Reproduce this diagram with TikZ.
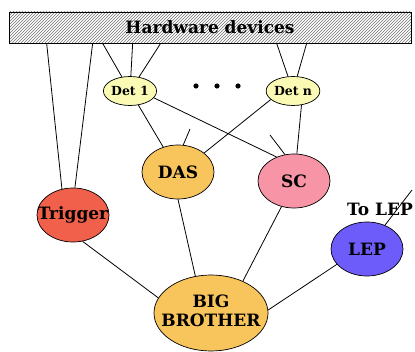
\documentclass[tikz,border=0pt]{standalone}
\usepackage{fontspec}
\setmainfont{DejaVu Serif}
\usetikzlibrary{shapes.geometric, patterns, calc}
\definecolor{detyellow}{HTML}{FAFAB4}
\definecolor{dasorange}{HTML}{F8C45C}
\definecolor{scpink}{HTML}{F794A6}
\definecolor{trigred}{HTML}{F0604A}
\definecolor{lepblue}{HTML}{6E5CFA}

\begin{document}
\begin{tikzpicture}[x=1pt, y=-1pt,
    unitnode/.style={ellipse, draw, line width=0.7pt, inner sep=0pt,
                     minimum width=72pt, minimum height=54pt,
                     font=\fontsize{17}{19}\selectfont\bfseries, align=center},
    unittext/.style={font=\fontsize{17}{19}\selectfont\bfseries, align=center},
    detnode/.style={ellipse, draw, line width=0.7pt, fill=detyellow, inner sep=0pt,
                    minimum width=49pt, minimum height=29pt,
                    font=\fontsize{12.5}{14}\selectfont\bfseries},
    hwbox/.style={draw, line width=0.7pt, pattern=north east lines, pattern color=black!55,
                  minimum width=402pt, minimum height=31pt, inner sep=0pt,
                  font=\fontsize{17}{19}\selectfont\bfseries},
    link/.style={line width=0.8pt}
  ]
  \useasboundingbox (0,0) rectangle (415,352);

  \node[hwbox] (hw) at (210,27.5) {Hardware devices};

  \node[detnode] (det1) at (130,91) {Det 1};
  \node[detnode] (detn) at (293,91) {Det n};
  \foreach \x in {196,217,238} \fill (\x,86) circle (2.6pt);

  \node[unitnode, fill=dasorange] (das) at (178,172) {DAS};
  \node[unitnode, fill=scpink] (sc) at (294,181) {SC};
  \node[unitnode, fill=trigred, label={[unittext]center:Trigger}] (trig) at (73,215) {};
  \node[unitnode, fill=lepblue] (lep) at (367,249) {LEP};
  \node[unitnode, fill=dasorange, minimum width=114pt, minimum height=76pt,
        label={[unittext, yshift=2pt]center:{BIG\\BROTHER}}] (bb) at (211,313) {};
  \node[unittext] (tolep) at (380,209) {To LEP};

  \coordinate (dasup) at (190,129);
  \coordinate (scup) at (270,135);
  \coordinate (lepup) at (412,190);

  \draw[link] ($(hw.south west)+(38,0)$) -- (trig.113);
  \draw[link] ($(hw.south west)+(84,0)$) -- (trig.86);
  \foreach \dx in {94,124,152} \draw[link] ($(hw.south west)+(\dx,0)$) -- (det1);
  \foreach \dx in {268,298} \draw[link] ($(hw.south west)+(\dx,0)$) -- (detn);

  \draw[link] (det1) -- (das);
  \draw[link] (det1.-16) -- (sc.126);
  \draw[link] (detn.201) -- (das.36);
  \draw[link] (detn.301) -- (sc.84);
  \draw[link] (das.79) -- (dasup);
  \draw[link] (sc.109) -- (scup);

  \draw[link] (trig.-70) -- (bb.164);
  \draw[link] (das.270) -- (bb.113);
  \draw[link] (sc.244) -- (bb.45);
  \draw[link] (lep.207) -- (bb.3);
  \draw[link] (lep.53) -- (lepup);
\end{tikzpicture}
\end{document}
